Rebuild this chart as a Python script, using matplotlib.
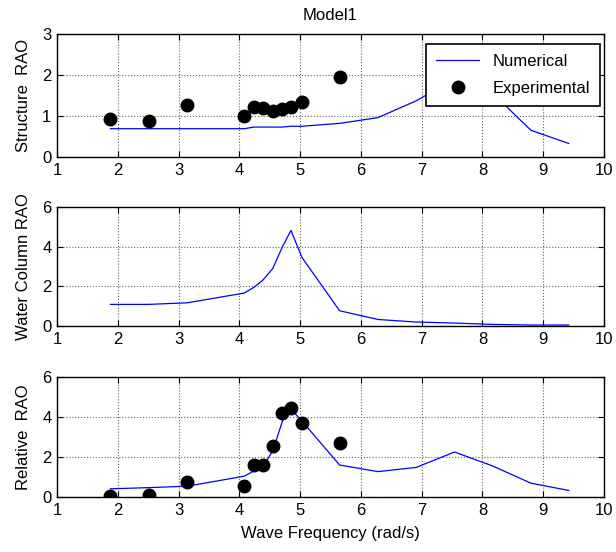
import matplotlib
matplotlib.use('Agg')
from matplotlib import pyplot as plt

plt.rcParams['font.family'] = ['Liberation Sans', 'DejaVu Sans']

# wave frequencies (rad/s)
freq_num = [1.88, 2.51, 3.14, 4.08, 4.24, 4.39, 4.55, 4.71, 4.85, 5.03,
            5.65, 6.28, 6.91, 7.54, 8.17, 8.80, 9.42]
freq_exp = [1.88, 2.51, 3.14, 4.08, 4.24, 4.39, 4.55, 4.71, 4.85, 5.03, 5.65]

# numerical RAOs
structure_num = [0.69, 0.69, 0.69, 0.69, 0.73, 0.73, 0.73, 0.73, 0.75, 0.75,
                 0.82, 0.96, 1.37, 1.90, 1.55, 0.65, 0.33]
column_num = [1.09, 1.09, 1.17, 1.66, 1.95, 2.32, 2.90, 4.00, 4.82, 3.46,
              0.77, 0.33, 0.20, 0.15, 0.08, 0.05, 0.05]
relative_num = [0.41, 0.47, 0.54, 1.04, 1.30, 1.55, 2.30, 3.80, 4.40, 3.80,
                1.60, 1.27, 1.48, 2.25, 1.55, 0.69, 0.33]

# experimental RAOs
structure_exp = [0.92, 0.88, 1.27, 0.99, 1.22, 1.19, 1.12, 1.17, 1.21, 1.34, 1.96]
relative_exp = [0.03, 0.08, 0.74, 0.53, 1.60, 1.60, 2.55, 4.20, 4.47, 3.70, 2.71]

xticks = [1, 2, 3, 4, 5, 6, 7, 8, 9, 10]

fig = plt.figure(figsize=(6.16, 5.52), dpi=100)
ax1 = fig.add_axes([0.0925, 0.7156, 0.888, 0.2228])
ax2 = fig.add_axes([0.0925, 0.4094, 0.888, 0.2156])
ax3 = fig.add_axes([0.0925, 0.0996, 0.888, 0.2174])


def style_axes(ax, ymax, yticks):
    ax.set_xlim(1, 10)
    ax.set_ylim(0, ymax)
    ax.set_xticks(xticks)
    ax.set_yticks(yticks)
    ax.grid(True, linestyle=':', color='#666666', linewidth=0.8)
    ax.tick_params(direction='in', top=True, right=True, labelsize=12,
                   length=4, width=0.8, pad=4)
    for sp in ax.spines.values():
        sp.set_linewidth(1.0)


# top: structure
ax1.plot(freq_num, structure_num, '-', color='blue', linewidth=0.9, label='Numerical')
ax1.plot(freq_exp, structure_exp, 'o', color='black', markersize=9, label='Experimental')
style_axes(ax1, 3, [0, 1, 2, 3])
ax1.set_ylabel('Structure  RAO', fontsize=12, labelpad=8)
ax1.set_title('Model1', fontsize=12, pad=10)
leg = ax1.legend(loc='upper right', bbox_to_anchor=(0.993, 0.92), borderaxespad=0,
                 fontsize=12, frameon=True, fancybox=False, edgecolor='black',
                 framealpha=1, handlelength=2.6, borderpad=0.6, labelspacing=0.7)
leg.get_frame().set_linewidth(1.2)

# middle: water column
ax2.plot(freq_num, column_num, '-', color='blue', linewidth=0.9)
style_axes(ax2, 6, [0, 2, 4, 6])
ax2.set_ylabel('Water Column RAO', fontsize=12, labelpad=8)

# bottom: relative
ax3.plot(freq_num, relative_num, '-', color='blue', linewidth=0.9)
ax3.plot(freq_exp, relative_exp, 'o', color='black', markersize=9)
style_axes(ax3, 6, [0, 2, 4, 6])
ax3.set_ylabel('Relative  RAO', fontsize=12, labelpad=8)
ax3.set_xlabel('Wave Frequency (rad/s)', fontsize=12, labelpad=6)

fig.savefig('out.png', dpi=100)
